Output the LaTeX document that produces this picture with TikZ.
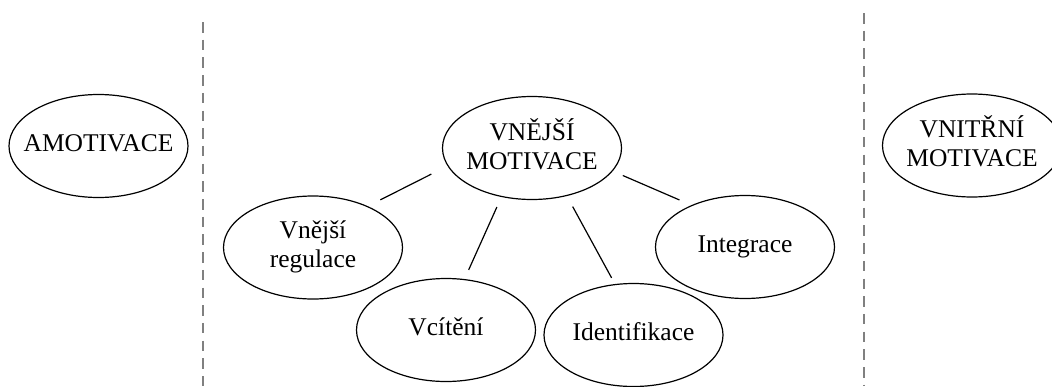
\documentclass[tikz,border=0pt]{standalone}
\usepackage{fontspec}
\setmainfont{Liberation Serif}
\usetikzlibrary{shapes.geometric}

\newcommand{\elltext}[1]{\makebox[0pt]{\begin{tabular}{@{}c@{}}#1\end{tabular}}}

\begin{document}
\begin{tikzpicture}
	[
		x=1pt, y=-1pt,
		every node/.style = {font=\fontsize{25.5}{29}\selectfont},
		oval/.style = {shape=ellipse, draw, line width=1.2pt, inner sep=0pt, minimum width=179pt, minimum height=103pt},
		link/.style = {line width=1.2pt},
		divider/.style = {draw=black!50, line width=2.4pt, dash pattern=on 10.5pt off 7.2pt}
	]
	
	\clip (0,0) rectangle (1052,386);
	
	% dividers
	\draw [divider] (203,22) -- (203,386);
	\draw [divider] (864,13) -- (864,386);
	
	\node [oval] (amot) at (98.5,146) {\elltext{AMOTIVACE}};
	\node [oval] (vnitr) at (972,145.5) {\elltext{VNITŘNÍ\\MOTIVACE}};
	
	\node [oval] (vm) at (532,148) {\elltext{VNĚJŠÍ\\MOTIVACE}};
	
	\node [oval] (reg) at (313,247.5) {\elltext{Vnější\\regulace}};
	\node [oval] (vcit) at (446,330) {\elltext{Vcítění}};
	\node [oval] (ident) at (633.5,335) {\elltext{Identifikace}};
	\node [oval] (integ) at (745,247) {\elltext{Integrace}};
	
	\draw [link, shorten <=14pt, shorten >=18pt] (reg.37) -- (vm.192);
	\draw [link, shorten <=10pt, shorten >=11pt] (vcit.70) -- (vm.238);
	\draw [link, shorten <=12pt, shorten >=7pt] (vm.306) -- (ident.110);
	\draw [link, shorten <=11pt, shorten >=13pt] (vm.344) -- (integ.142);
	
\end{tikzpicture}
\end{document}
